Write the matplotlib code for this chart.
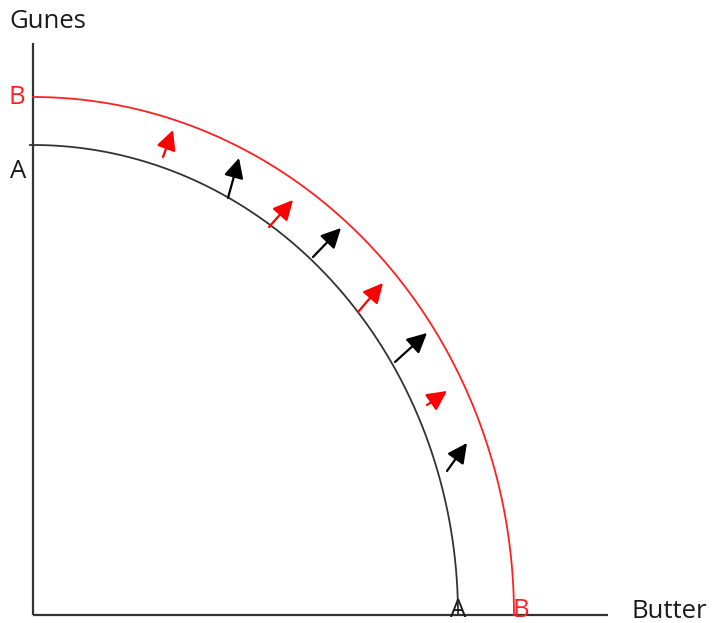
import numpy as np
import matplotlib
matplotlib.use("Agg")
import matplotlib.pyplot as plt

plt.rcParams['font.family'] = ['Open Sans', 'DejaVu Sans']

# frontier radii (butter, guns) for the old and the shifted curve
frontier_a = (425, 470)
frontier_b = (481, 518)

# growth arrows: tail and tip, one list per colour
red_tails = [(130, 458), (236, 388), (325, 303), (394, 210)]
red_tips = [(140, 485), (260, 415), (350, 332), (414, 224)]
black_tails = [(195, 417), (280, 358), (362, 253), (414, 144)]
black_tips = [(206, 457), (308, 387), (394, 282), (434, 172)]

axis_len_x = 575
axis_len_y = 572

fig = plt.figure(figsize=(7.14, 6.23), dpi=100)
ax = fig.add_axes([0, 0, 1, 1])
ax.set_xlim(-33, 681)
ax.set_ylim(-8, 615)
ax.axis("off")

# axes
ax.plot([0, 0], [0, axis_len_y], color="#333333", lw=1.6, solid_capstyle="butt")
ax.plot([0, axis_len_x], [0, 0], color="#333333", lw=1.6, solid_capstyle="butt")

# quarter ellipses
t = np.linspace(0, np.pi / 2, 300)
ax.plot(np.r_[-3, frontier_a[0] * np.cos(t)[::-1]],
        np.r_[frontier_a[1], frontier_a[1] * np.sin(t)[::-1]],
        color="#333333", lw=1.3)
ax.plot(frontier_b[0] * np.cos(t), frontier_b[1] * np.sin(t),
        color="#ff2020", lw=1.3)


def arrows(tails, tips, color):
    for tail, tip in zip(tails, tips):
        ax.annotate("", xy=tip, xytext=tail,
                    arrowprops=dict(arrowstyle="-|>,head_length=1.0,head_width=0.5",
                                    mutation_scale=12, lw=1.6, color=color,
                                    shrinkA=0, shrinkB=0))


arrows(red_tails, red_tips, "#ff0000")
arrows(black_tails, black_tips, "#000000")

txt = "#1a1a1a"
fs = 18.5
ax.text(-24, 587, "Gunes", fontsize=fs, color=txt, ha="left", va="baseline")
ax.text(599, -3, "Butter", fontsize=fs, color=txt, ha="left", va="baseline")
ax.text(-15, 437, "A", fontsize=fs, color=txt, ha="center", va="baseline")
ax.text(-16, 511, "B", fontsize=fs, color="#ff2020", ha="center", va="baseline")
ax.text(frontier_a[0], -2, "A", fontsize=fs, color=txt, ha="center", va="baseline")
ax.text(frontier_b[0] + 7, -2, "B", fontsize=fs, color="#ff2020", ha="center", va="baseline")

fig.savefig("out.png", dpi=100)
